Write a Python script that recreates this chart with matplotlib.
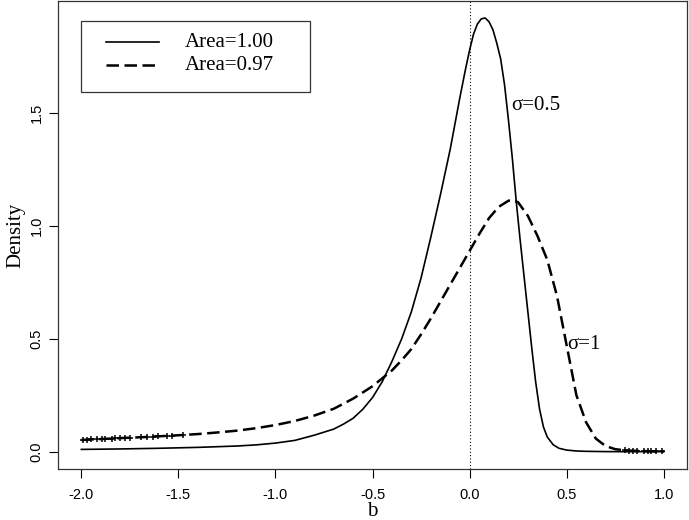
import matplotlib.pyplot as plt
from matplotlib.lines import Line2D
from matplotlib.patches import Rectangle

# solid curve, sigma = 0.5
b_solid = [-2.0, -1.8, -1.6, -1.4, -1.2, -1.1, -1.0, -0.9, -0.8, -0.7,
           -0.65, -0.6, -0.55, -0.5, -0.45, -0.4, -0.35, -0.3, -0.25, -0.2,
           -0.15, -0.1, -0.05, -0.02, 0.0, 0.02, 0.04, 0.06, 0.08, 0.10,
           0.12, 0.14, 0.16, 0.18, 0.20, 0.22, 0.24, 0.26, 0.28, 0.30,
           0.32, 0.34, 0.36, 0.38, 0.40, 0.43, 0.46, 0.50, 0.55, 0.60,
           0.70, 0.80, 1.0]
d_solid = [0.010, 0.012, 0.015, 0.019, 0.025, 0.030, 0.038, 0.050, 0.073, 0.100,
           0.122, 0.148, 0.188, 0.24, 0.31, 0.40, 0.50, 0.62, 0.77, 0.95,
           1.14, 1.34, 1.57, 1.70, 1.78, 1.85, 1.895, 1.918, 1.922, 1.905,
           1.87, 1.81, 1.74, 1.625, 1.47, 1.30, 1.11, 0.94, 0.78, 0.62,
           0.46, 0.31, 0.19, 0.11, 0.065, 0.031, 0.015, 0.007, 0.003, 0.0015,
           0.0003, 0.0, 0.0]

# dashed curve, sigma = 1 (left tail, body, right tail)
b_left = [-2.0, -1.993, -1.973, -1.952, -1.921, -1.895, -1.878, -1.844, -1.827,
          -1.801, -1.776, -1.750, -1.690, -1.664, -1.630, -1.604, -1.561, -1.535,
          -1.475]
d_left = [0.052, 0.052, 0.053, 0.054, 0.055, 0.056, 0.057, 0.058, 0.059,
          0.060, 0.061, 0.062, 0.064, 0.065, 0.067, 0.068, 0.070, 0.071, 0.074]
b_mid = [-1.4, -1.3, -1.2, -1.1, -1.0, -0.9, -0.8, -0.7, -0.6, -0.5,
         -0.45, -0.4, -0.35, -0.3, -0.25, -0.2, -0.15, -0.1, -0.05, 0.0,
         0.05, 0.1, 0.15, 0.2, 0.22, 0.25, 0.3, 0.35, 0.4, 0.45,
         0.5, 0.55, 0.6, 0.65, 0.7, 0.75]
d_mid = [0.078, 0.085, 0.093, 0.104, 0.118, 0.136, 0.160, 0.190, 0.235, 0.29,
         0.325, 0.36, 0.405, 0.455, 0.52, 0.59, 0.665, 0.74, 0.815, 0.89,
         0.965, 1.035, 1.085, 1.112, 1.116, 1.105, 1.045, 0.955, 0.85, 0.69,
         0.47, 0.25, 0.13, 0.058, 0.025, 0.011]
b_right = [0.80, 0.82, 0.84, 0.86, 0.90, 0.92, 0.935, 0.96, 0.99, 1.0]
d_right = [0.006, 0.005, 0.004, 0.0035, 0.0025, 0.002, 0.0018, 0.0014, 0.001, 0.001]

legend_labels = ["Area=1.00", "Area=0.97"]
x_ticks = [-2.0, -1.5, -1.0, -0.5, 0.0, 0.5, 1.0]
y_ticks = [0.0, 0.5, 1.0, 1.5]

serif = ["Liberation Serif", "DejaVu Serif"]
sans = ["Liberation Sans", "DejaVu Sans"]
dash_style = (0, (5, 2.2))

fig = plt.figure(figsize=(6.89, 5.20), dpi=100)
ax = fig.add_axes([0.0842, 0.098, 0.913, 0.900])

b_dash = b_left + b_mid + b_right
d_dash = d_left + d_mid + d_right

ax.axvline(0.0, color="black", linestyle=(0, (1, 2)), linewidth=0.8)
ax.plot(b_solid, d_solid, color="black", linewidth=1.2)
ax.plot(b_dash, d_dash, color="black", linewidth=1.8, linestyle=dash_style)
ax.plot(b_left[1:], d_left[1:], linestyle="none", marker="+", markersize=4,
        markeredgewidth=1.1, color="black")
ax.plot(b_right[:-1], d_right[:-1], linestyle="none", marker="+", markersize=4,
        markeredgewidth=1.1, color="black")

ax.text(0.216, 1.535, "σ=0.5", fontsize=15, family=serif, va="center", ha="left")
ax.text(0.505, 0.476, "σ=1", fontsize=15, family=serif, va="center", ha="left")

# legend box drawn by hand, in axes fractions
ax.add_patch(Rectangle((0.0366, 0.8056), 0.364, 0.1514, transform=ax.transAxes,
                       fill=False, edgecolor="#333333", linewidth=0.9))
ax.add_line(Line2D([0.0763, 0.1606], [0.912, 0.912], transform=ax.transAxes,
                   color="black", linewidth=1.2))
ax.add_line(Line2D([0.0763, 0.1606], [0.863, 0.863], transform=ax.transAxes,
                   color="black", linewidth=1.8, linestyle=dash_style))
for yy, lab in zip([0.912, 0.863], legend_labels):
    ax.text(0.2019, yy, lab, transform=ax.transAxes, fontsize=15, family=serif,
            va="center", ha="left")

ax.set_xlim(-2.12, 1.12)
ax.set_ylim(-0.077, 1.997)
ax.set_xticks(x_ticks)
ax.set_xticklabels([f"{t:.1f}" for t in x_ticks], family=sans, fontsize=10.5)
ax.set_yticks(y_ticks)
ax.set_yticklabels([f"{t:.1f}" for t in y_ticks], family=sans, fontsize=10.5,
                   rotation=90, va="center")
ax.tick_params(direction="out", length=6.5, width=0.8)
ax.tick_params(axis="x", pad=7)
ax.tick_params(axis="y", pad=4)
for s in ax.spines.values():
    s.set_linewidth(0.9)
    s.set_color("#333333")

ax.set_xlabel("b", family=serif, fontsize=15, labelpad=0)
ax.set_ylabel("Density", family=serif, fontsize=15, labelpad=3)

fig.savefig("out.png", dpi=100)
